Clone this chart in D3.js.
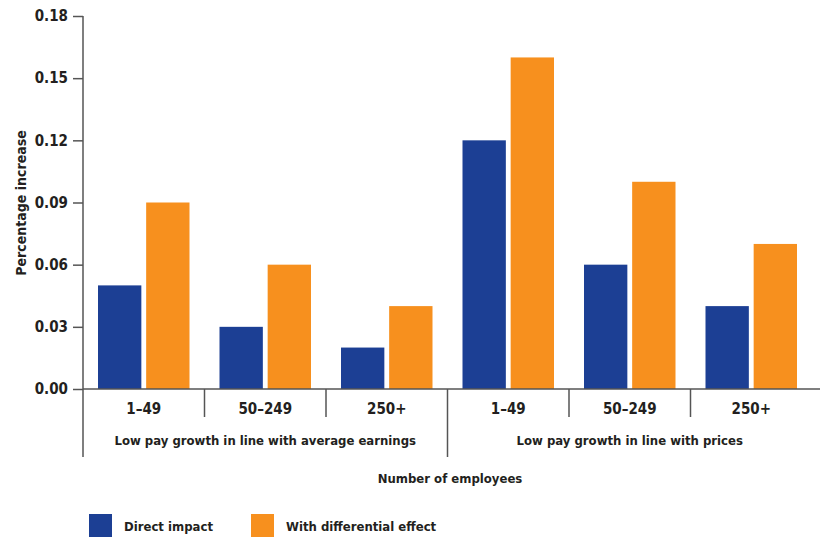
<!DOCTYPE html>
<html>
<head>
<meta charset="utf-8">
<script src="https://cdn.jsdelivr.net/npm/d3@7"></script>
<style>
  body { margin: 0; background: #fff; }
  text { font-family: "Liberation Sans Narrow", "DejaVu Sans Condensed", "Arial Narrow", sans-serif; font-weight: bold; fill: #231f20; }
</style>
</head>
<body>
<svg id="chart" width="820" height="538"></svg>
<script>
const groups = ["Low pay growth in line with average earnings", "Low pay growth in line with prices"];
const sizes = ["1–49", "50–249", "250+"];
const seriesNames = ["Direct impact", "With differential effect"];
const directImpact = [0.05, 0.03, 0.02, 0.12, 0.06, 0.04];
const differentialEffect = [0.09, 0.06, 0.04, 0.16, 0.10, 0.07];
const yTicks = [0, 0.03, 0.06, 0.09, 0.12, 0.15, 0.18];
const colors = ["#1c3f94", "#f7901e"];

(function () {
const rows = [];
groups.forEach((g, gi) => sizes.forEach((s, si) => {
  const i = gi * sizes.length + si;
  rows.push({ key: gi + "|" + s, group: g, size: s, values: [directImpact[i], differentialEffect[i]] });
}));

const svg = d3.select("#chart");
const mLeft = 83, mRight = 812, mTop = 16, mBottom = 389;

const x = d3.scaleBand().domain(rows.map(r => r.key)).range([mLeft, mRight]).padding(0);
const xInner = d3.scaleBand().domain(seriesNames).range([15, x.bandwidth() - 15]).paddingInner(0.1);
const y = d3.scaleLinear().domain([0, 0.18]).range([mBottom, mTop]);

// bars
const g = svg.append("g");
rows.forEach(r => {
  g.selectAll(null).data(r.values).enter().append("rect")
    .attr("x", (v, i) => x(r.key) + xInner(seriesNames[i]))
    .attr("y", v => y(v))
    .attr("width", xInner.bandwidth())
    .attr("height", v => y(0) - y(v))
    .attr("fill", (v, i) => colors[i]);
});

// y axis
const yAxis = d3.axisLeft(y).tickValues(yTicks).tickFormat(d3.format(".2f")).tickSize(10).tickPadding(5);
const ya = svg.append("g").attr("transform", `translate(${mLeft},0)`).call(yAxis);
ya.select(".domain").attr("stroke", "#555").attr("stroke-width", 1.5).attr("d", `M0,${mTop}V${mBottom + 68}`);
ya.selectAll(".tick line").attr("stroke", "#555").attr("stroke-width", 1.5).attr("x1", 0).attr("x2", -10);
ya.selectAll(".tick text").style("font-size", "15px").attr("fill", "#231f20");

// x baseline
svg.append("line").attr("x1", mLeft).attr("x2", 820).attr("y1", mBottom).attr("y2", mBottom)
  .attr("stroke", "#555").attr("stroke-width", 1.5);

// dividers
rows.forEach((r, i) => {
  if (i === 0) return;
  const isGroupStart = i % sizes.length === 0;
  svg.append("line")
    .attr("x1", x(r.key)).attr("x2", x(r.key))
    .attr("y1", mBottom).attr("y2", isGroupStart ? mBottom + 68 : mBottom + 28)
    .attr("stroke", "#555").attr("stroke-width", 1.5);
});

// size labels
svg.append("g").selectAll("text").data(rows).enter().append("text")
  .attr("x", r => x(r.key) + x.bandwidth() / 2)
  .attr("y", mBottom + 25)
  .attr("text-anchor", "middle")
  .style("font-size", "15px")
  .text(r => r.size);

// group labels
groups.forEach((gname, gi) => {
  const first = x(gi + "|" + sizes[0]);
  const last = x(gi + "|" + sizes[sizes.length - 1]) + x.bandwidth();
  svg.append("text")
    .attr("x", (first + last) / 2)
    .attr("y", mBottom + 56)
    .attr("text-anchor", "middle")
    .style("font-size", "13px")
    .text(gname);
});

// x title
svg.append("text").attr("x", 450).attr("y", 483).attr("text-anchor", "middle")
  .style("font-size", "13px").text("Number of employees");

// y title
svg.append("text").attr("transform", "translate(26,203) rotate(-90)")
  .attr("text-anchor", "middle").style("font-size", "14px").text("Percentage increase");

// legend
const legX = [89, 251];
seriesNames.forEach((s, i) => {
  svg.append("rect").attr("x", legX[i]).attr("y", 514).attr("width", 23).attr("height", 23).attr("fill", colors[i]);
  svg.append("text").attr("x", legX[i] + 35).attr("y", 531).style("font-size", "13px").text(s);
});
})();
</script>
</body>
</html>
